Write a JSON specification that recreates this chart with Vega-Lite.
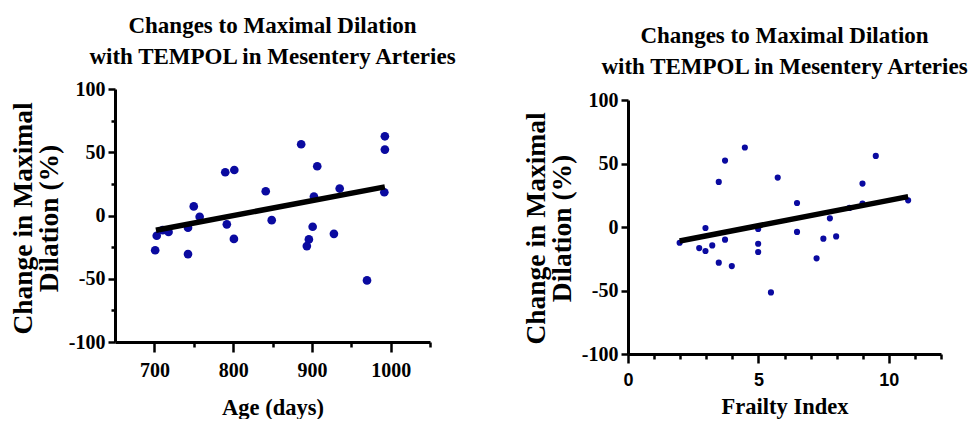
{
  "$schema": "https://vega.github.io/schema/vega-lite/v6.json",
  "padding": {"left": 9, "top": 15, "right": 0, "bottom": 0},
  "background": "white",
  "spacing": 64,
  "datasets": {
    "age": [
      {"age": 701, "change": -27.5}, {"age": 703, "change": -16}, {"age": 710.6, "change": -11.6},
      {"age": 718, "change": -13}, {"age": 742.7, "change": -9.6}, {"age": 742.7, "change": -30.5},
      {"age": 750, "change": 7.2}, {"age": 757.5, "change": -1}, {"age": 790, "change": 34.2},
      {"age": 801.5, "change": 36}, {"age": 792, "change": -7}, {"age": 801, "change": -18.5},
      {"age": 841.4, "change": 19.2}, {"age": 849, "change": -3.7}, {"age": 886.4, "change": 56.3},
      {"age": 906.8, "change": 38.9}, {"age": 902.6, "change": 15}, {"age": 901, "change": -8.9},
      {"age": 896.2, "change": -18.9}, {"age": 893.6, "change": -24.2}, {"age": 935.3, "change": 21.3},
      {"age": 928, "change": -14.5}, {"age": 970, "change": -51.3}, {"age": 992.7, "change": 62.6},
      {"age": 992.7, "change": 52.1}, {"age": 992, "change": 18.4}
    ],
    "ageFit": [{"age": 702, "change": -11.6}, {"age": 992.7, "change": 22.6}],
    "frailty": [
      {"fi": 1.98, "change": -12.4}, {"fi": 2.73, "change": -16.6}, {"fi": 2.97, "change": -0.8},
      {"fi": 2.97, "change": -18.9}, {"fi": 3.23, "change": -14.5}, {"fi": 3.48, "change": 35.5},
      {"fi": 3.48, "change": -28.1}, {"fi": 3.72, "change": 52.3}, {"fi": 3.72, "change": -10},
      {"fi": 3.98, "change": -30.8}, {"fi": 4.48, "change": 62.6}, {"fi": 4.99, "change": -1.6},
      {"fi": 4.99, "change": -13.2}, {"fi": 4.99, "change": -19.7}, {"fi": 5.48, "change": -51.5},
      {"fi": 5.74, "change": 38.9}, {"fi": 6.48, "change": 18.9}, {"fi": 6.48, "change": -3.9},
      {"fi": 7.23, "change": -24.7}, {"fi": 7.49, "change": -9.2}, {"fi": 7.74, "change": 6.8},
      {"fi": 7.98, "change": -7.4}, {"fi": 8.49, "change": 15}, {"fi": 8.99, "change": 34.2},
      {"fi": 8.99, "change": 18.4}, {"fi": 9.5, "change": 56}, {"fi": 10.74, "change": 21}
    ],
    "frailtyFit": [{"fi": 1.98, "change": -11}, {"fi": 10.74, "change": 23.9}]
  },
  "hconcat": [
    {
      "width": 315,
      "height": 253,
      "title": {
        "text": ["Changes to Maximal Dilation", "with TEMPOL in Mesentery Arteries"],
        "fontSize": 23, "lineHeight": 31, "font": "Liberation Serif", "fontWeight": "bold",
        "color": "black", "anchor": "middle", "offset": 10
      },
      "layer": [
        {
          "mark": {"type": "rule", "color": "black", "strokeWidth": 2, "strokeDash": [2, 3.7]},
          "encoding": {"y": {"datum": 0, "type": "quantitative", "scale": {"domain": [-100, 100], "nice": false}}}
        },
        {
          "data": {"name": "age"},
          "mark": {"type": "circle", "color": "#0a0aa0", "opacity": 1, "size": 75},
          "encoding": {
            "x": {
              "field": "age", "type": "quantitative",
              "scale": {"domain": [650, 1050], "nice": false, "zero": false},
              "axis": {
                "title": "Age (days)", "titleFontSize": 22.5, "titlePadding": 16,
                "values": [700, 750, 800, 850, 900, 950, 1000, 1050], "tickCount": 30,
                "format": "d", "labelOverlap": false,
                "labelOpacity": {"condition": {"test": "datum.value % 100 === 0", "value": 1}, "value": 0},
                "tickSize": {"condition": {"test": "datum.value % 100 === 0", "value": 10}, "value": 5},
                "labelPadding": 8, "labelFlush": false
              }
            },
            "y": {
              "field": "change", "type": "quantitative",
              "scale": {"domain": [-100, 100], "nice": false},
              "axis": {
                "title": ["Change in Maximal", "Dilation (%)"], "titleFontSize": 27.5, "titleLineHeight": 26,
                "titlePadding": 5, "titleY": 129,
                "values": [-100, -75, -50, -25, 0, 25, 50, 75, 100], "tickCount": 30,
                "format": "d",
                "labelExpr": "replace(datum.label, '−', '-')",
                "labelOverlap": false,
                "labelOpacity": {"condition": {"test": "datum.value % 50 === 0", "value": 1}, "value": 0},
                "tickSize": {"condition": {"test": "datum.value % 50 === 0", "value": 7}, "value": 4},
                "labelPadding": 3, "labelFlush": false
              }
            }
          }
        },
        {
          "data": {"name": "ageFit"},
          "mark": {"type": "line", "color": "black", "strokeWidth": 5.5},
          "encoding": {
            "x": {"field": "age", "type": "quantitative"},
            "y": {"field": "change", "type": "quantitative"}
          }
        }
      ]
    },
    {
      "width": 313,
      "height": 265,
      "title": {
        "text": ["Changes to Maximal Dilation", "with TEMPOL in Mesentery Arteries"],
        "fontSize": 23, "lineHeight": 31, "font": "Liberation Serif", "fontWeight": "bold",
        "color": "black", "anchor": "middle", "offset": 10
      },
      "layer": [
        {
          "mark": {"type": "rule", "color": "black", "strokeWidth": 2, "strokeDash": [2, 3.7]},
          "encoding": {"y": {"datum": 0, "type": "quantitative", "scale": {"domain": [-100, 100], "nice": false, "range": [265, 11]}}}
        },
        {
          "data": {"name": "frailty"},
          "mark": {"type": "circle", "color": "#0a0aa0", "opacity": 1, "size": 38},
          "encoding": {
            "x": {
              "field": "fi", "type": "quantitative",
              "scale": {"domain": [0, 12], "nice": false},
              "axis": {
                "title": "Frailty Index", "titleFontSize": 22.5, "titlePadding": 6,
                "values": [0, 1, 2, 3, 4, 5, 6, 7, 8, 9, 10, 11, 12], "tickCount": 30,
                "format": "d", "labelOverlap": false,
                "labelOpacity": {"condition": {"test": "datum.value % 5 === 0", "value": 1}, "value": 0},
                "labelFont": "Liberation Sans", "labelFontSize": 18,
                "tickSize": {"condition": {"test": "datum.value % 5 === 0", "value": 9}, "value": 5},
                "labelPadding": 8, "labelFlush": false
              }
            },
            "y": {
              "field": "change", "type": "quantitative",
              "scale": {"domain": [-100, 100], "nice": false, "range": [265, 11]},
              "axis": {
                "title": ["Change in Maximal", "Dilation (%)"], "titleFontSize": 27.5, "titleLineHeight": 26,
                "titlePadding": 5, "titleY": 139,
                "values": [-100, -50, 0, 50, 100], "tickCount": 30,
                "format": "d",
                "labelExpr": "replace(datum.label, '−', '-')",
                "labelOverlap": false,
                "tickSize": 7,
                "labelPadding": 3, "labelFlush": false
              }
            }
          }
        },
        {
          "data": {"name": "frailtyFit"},
          "mark": {"type": "line", "color": "black", "strokeWidth": 5.5},
          "encoding": {
            "x": {"field": "fi", "type": "quantitative"},
            "y": {"field": "change", "type": "quantitative"}
          }
        }
      ]
    }
  ],
  "config": {
    "view": {"stroke": null},
    "axis": {
      "grid": false,
      "domainColor": "black", "domainWidth": 3,
      "tickColor": "black", "tickWidth": 2.5,
      "labelColor": "black", "titleColor": "black",
      "labelFont": "Liberation Serif", "labelFontWeight": "bold", "labelFontSize": 20,
      "titleFont": "Liberation Serif", "titleFontWeight": "bold"
    }
  }
}
